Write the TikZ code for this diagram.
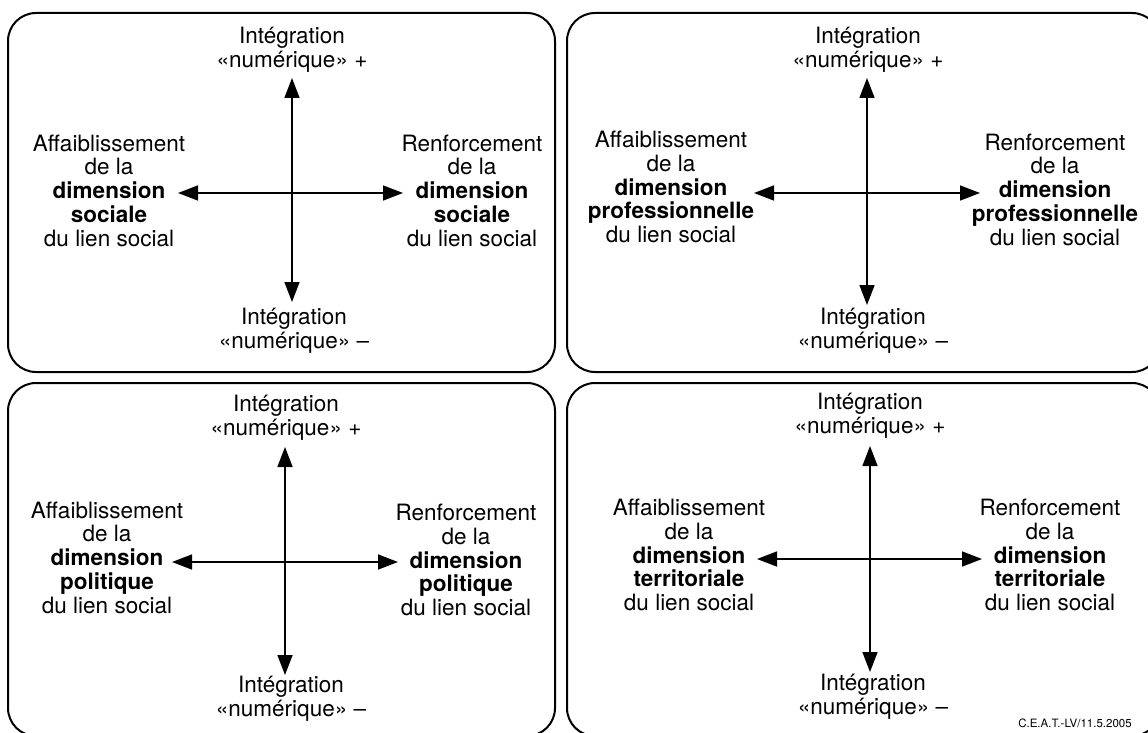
\documentclass[tikz,border=0pt]{standalone}
\usepackage{fontspec}
\setmainfont{TeX Gyre Heros}
\usetikzlibrary{arrows.meta}
\begin{document}
\begin{tikzpicture}[x=1pt,y=-1pt,
  panel/.style={line width=2pt, rounded corners=28pt},
  axis/.style={line width=1.5pt, {Triangle[length=20pt,width=15pt]}-{Triangle[length=20pt,width=15pt]}},
  lbl/.style={align=center, inner sep=0pt, font=\fontsize{22.5}{23.75}\selectfont},
  credit/.style={inner sep=0pt, font=\fontsize{11.5}{13}\selectfont}]
\useasboundingbox (0,0) rectangle (1148,733);
\clip (0,0) rectangle (1148,733);
% panels
\draw[panel] (8,13) rectangle (555,372);
\draw[panel] (567,13) rectangle (1160,372);
\draw[panel] (8,383) rectangle (555,736);
\draw[panel] (567,383) rectangle (1160,736);

% ---- panel 1: sociale
\node[lbl] (top1) at (292,50) {Intégration\\«numérique» +};
\node[lbl] (bot1) at (294,331) {Intégration\\«numérique» –};
\node[lbl] (left1) at (109,190.5) {Affaiblissement\\de la\\\textbf{dimension}\\\textbf{sociale}\\du lien social};
\node[lbl] (right1) at (472,190.5) {Renforcement\\de la\\\textbf{dimension}\\\textbf{sociale}\\du lien social};
\coordinate (n1) at (292,78);
\coordinate (s1) at (292,302);
\coordinate (w1) at (178,193);
\coordinate (e1) at (403,193);
\draw[axis] (n1) -- (s1);
\draw[axis] (w1) -- (e1);

% ---- panel 2: professionnelle
\node[lbl] (top2) at (868,50) {Intégration\\«numérique» +};
\node[lbl] (bot2) at (873,331) {Intégration\\«numérique» –};
\node[lbl] (left2) at (671,187) {Affaiblissement\\de la\\\textbf{dimension}\\\textbf{professionnelle}\\du lien social};
\node[lbl] (right2) at (1055,189.5) {Renforcement\\de la\\\textbf{dimension}\\\textbf{professionnelle}\\du lien social};
\coordinate (n2) at (867,78);
\coordinate (s2) at (867,305);
\coordinate (w2) at (754,193);
\coordinate (e2) at (980,193);
\draw[axis] (n2) -- (s2);
\draw[axis] (w2) -- (e2);

% ---- panel 3: politique
\node[lbl] (top3) at (286,418) {Intégration\\«numérique» +};
\node[lbl] (bot3) at (291,699) {Intégration\\«numérique» –};
\node[lbl] (left3) at (107,557.5) {Affaiblissement\\de la\\\textbf{dimension}\\\textbf{politique}\\du lien social};
\node[lbl] (right3) at (466,560) {Renforcement\\de la\\\textbf{dimension}\\\textbf{politique}\\du lien social};
\coordinate (n3) at (285,447);
\coordinate (s3) at (285,675);
\coordinate (w3) at (172,562);
\coordinate (e3) at (398,562);
\draw[axis] (n3) -- (s3);
\draw[axis] (w3) -- (e3);

% ---- panel 4: territoriale
\node[lbl] (top4) at (870,416) {Intégration\\«numérique» +};
\node[lbl] (bot4) at (873,697) {Intégration\\«numérique» –};
\node[lbl] (left4) at (689,555) {Affaiblissement\\de la\\\textbf{dimension}\\\textbf{territoriale}\\du lien social};
\node[lbl] (right4) at (1050,555) {Renforcement\\de la\\\textbf{dimension}\\\textbf{territoriale}\\du lien social};
\coordinate (n4) at (870,446);
\coordinate (s4) at (870,672);
\coordinate (w4) at (757,559);
\coordinate (e4) at (982,559);
\draw[axis] (n4) -- (s4);
\draw[axis] (w4) -- (e4);

\node[credit] (cred) at (1075,723) {C.E.A.T.-LV/11.5.2005};
\end{tikzpicture}
\end{document}
